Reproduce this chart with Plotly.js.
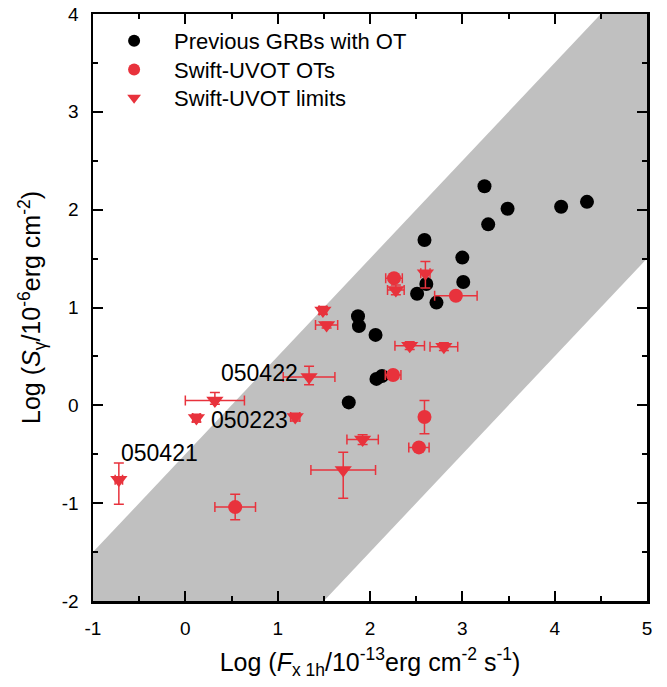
<!DOCTYPE html>
<html><head><meta charset="utf-8">
<script src="https://cdn.plot.ly/plotly-3.0.1.min.js"></script>
<style>html,body{margin:0;padding:0;background:#fff}</style>
</head><body><div id="chart" style="width:667px;height:687px"></div>
<script>
// Allowed band (grey region)
const bandX = [-1, -1, 4.5, 5, 5, 1.5];
const bandY = [-2, -1.5, 4, 4, 1.5, -2];

// Previous GRBs with OT
const prevX = [3.24, 3.49, 3.28, 4.07, 4.35, 2.59, 3.00, 3.01, 2.61, 2.51, 2.72, 1.87, 1.88, 2.06, 2.07, 2.13, 1.77];
const prevY = [2.24, 2.01, 1.85, 2.03, 2.08, 1.69, 1.51, 1.26, 1.24, 1.14, 1.05, 0.91, 0.81, 0.72, 0.27, 0.30, 0.03];

// Swift-UVOT OTs
const otX    = [2.26, 2.93, 2.25, 2.59, 2.53, 0.54];
const otY    = [1.30, 1.12, 0.31, -0.12, -0.43, -1.04];
const otXerr = [0.09, 0.23, 0.085, 0.03, 0.11, 0.22];
const otYerr = [0.04, 0.03, 0.03, 0.17, 0.03, 0.13];

// Swift-UVOT limits
const limX      = [2.28, 2.60, 1.49, 1.53, 2.43, 2.80, 1.34, 0.32, 0.12, 1.19, 1.92, 1.71, -0.72];
const limY      = [1.18, 1.35, 0.97, 0.82, 0.61, 0.60, 0.29, 0.05, -0.13, -0.12, -0.35, -0.66, -0.76];
const limXerr   = [0.09, 0.05, 0.04, 0.12, 0.16, 0.15, 0.28, 0.32, 0.04, 0.05, 0.17, 0.35, 0.04];
const limYplus  = [0.05, 0.12, 0.04, 0.03, 0.04, 0.04, 0.11, 0.08, 0.04, 0.04, 0.05, 0.18, 0.17];
const limYminus = [0.05, 0.15, 0.04, 0.03, 0.04, 0.04, 0.08, 0.04, 0.04, 0.04, 0.05, 0.29, 0.25];

// Labels
const grbNames = ['050422', '050223', '050421'];
const grbNameX = [1.24, 0.26, -0.72];
const grbNameY = [0.33, -0.15, -0.49];

const xTickVals = [-1, 0, 1, 2, 3, 4, 5];
const xTickText = ['-1', '0', '1', '2', '3', '4', '5'];
const yTickVals = [-2, -1, 0, 1, 2, 3, 4];
const yTickText = ['-2', '-1', '0', '1', '2', '3', '4'];

const RED = '#e8323c';
const FONT = 'Liberation Sans, Arial, Helvetica, sans-serif';

const traces = [
  {x: bandX, y: bandY, type: 'scatter', mode: 'lines', fill: 'toself',
   fillcolor: '#c0c0c0', line: {width: 0, color: '#c0c0c0'}, showlegend: false, hoverinfo: 'skip'},
  {x: prevX, y: prevY, type: 'scatter', mode: 'markers', name: 'Previous GRBs with OT', legend: 'legend',
   marker: {color: '#000', size: 14, symbol: 'circle'}},
  {x: otX, y: otY, type: 'scatter', mode: 'markers', name: 'Swift-UVOT OTs', legend: 'legend2',
   marker: {color: RED, size: 14, symbol: 'circle'},
   error_x: {type: 'data', array: otXerr, color: RED, thickness: 1.5, width: 5},
   error_y: {type: 'data', array: otYerr, color: RED, thickness: 1.5, width: 5}},
  {x: limX, y: limY, type: 'scatter', mode: 'markers', name: 'Swift-UVOT limits', legend: 'legend3',
   marker: {color: RED, size: 15, symbol: 'triangle-down'},
   error_x: {type: 'data', array: limXerr, color: RED, thickness: 1.5, width: 5},
   error_y: {type: 'data', symmetric: false, array: limYplus, arrayminus: limYminus, color: RED, thickness: 1.5, width: 5}}
];

const annotations = grbNames.map((t, i) => ({
  x: grbNameX[i], y: grbNameY[i], xref: 'x', yref: 'y', text: t, showarrow: false,
  xanchor: i === 0 ? 'right' : 'left', yanchor: 'middle',
  font: {family: FONT, size: 23, color: '#000'}
}));

const axisCommon = {
  showgrid: false, zeroline: false, showline: true, linecolor: '#000', linewidth: 2.5,
  mirror: 'ticks', ticks: 'inside', ticklen: 10, tickwidth: 2, tickcolor: '#000',
  tickfont: {family: FONT, size: 19, color: '#000'},
  minor: {dtick: 0.5, ticks: 'inside', ticklen: 5, tickwidth: 2, tickcolor: '#000', showgrid: false}
};

function legendAt(yPaper) {
  return {x: 0.002, y: yPaper, xanchor: 'left', yanchor: 'middle', bgcolor: 'rgba(0,0,0,0)',
          font: {family: FONT, size: 22, color: '#000'}, itemwidth: 70, itemsizing: 'constant'};
}

const layout = {
  width: 667, height: 687,
  margin: {l: 93, r: 20, t: 14, b: 86},
  paper_bgcolor: '#fff', plot_bgcolor: '#fff',
  font: {family: FONT, color: '#000'},
  showlegend: true,
  legend: legendAt(0.954),
  legend2: legendAt(0.905),
  legend3: legendAt(0.857),
  xaxis: Object.assign({}, axisCommon, {
    range: [-1, 5], tickmode: 'array', tickvals: xTickVals, ticktext: xTickText, ticklabelstandoff: 9,
    title: {text: 'Log (<i>F</i><sub>x 1h</sub>/10<sup>-13</sup>erg cm<sup>-2</sup> s<sup>-1</sup>)',
            font: {family: FONT, size: 25, color: '#000'}, standoff: 15}
  }),
  yaxis: Object.assign({}, axisCommon, {
    range: [-2, 4], tickmode: 'array', tickvals: yTickVals, ticktext: yTickText, ticklabelstandoff: 8,
    title: {text: 'Log (<i>S</i><sub>γ</sub>/10<sup>-6</sup>erg cm<sup>-2</sup>)',
            font: {family: FONT, size: 25, color: '#000'}, standoff: 14}
  }),
  annotations: annotations
};

Plotly.newPlot('chart', traces, layout, {staticPlot: true, displayModeBar: false});
</script></body></html>
